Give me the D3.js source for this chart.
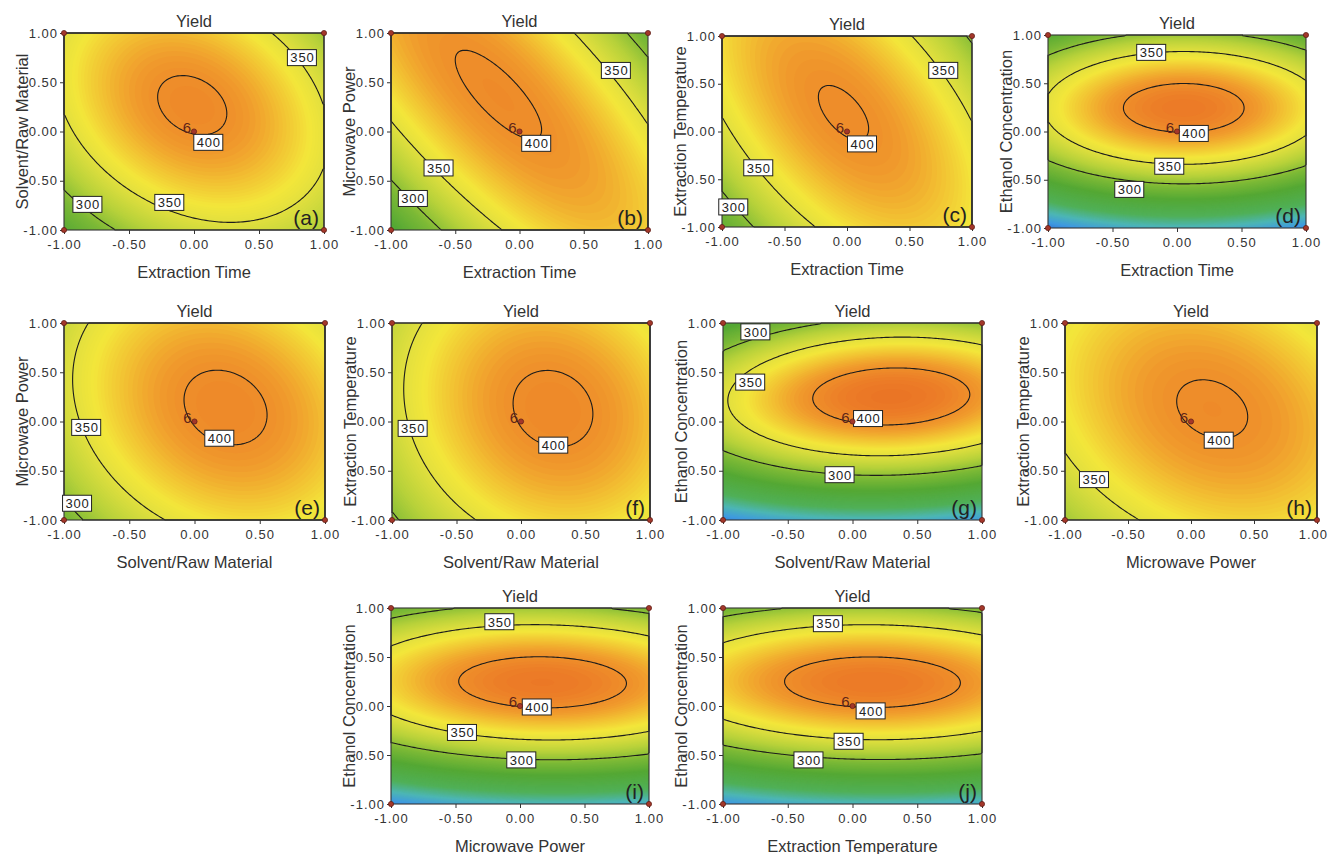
<!DOCTYPE html>
<html>
<head>
<meta charset="utf-8">
<script src="https://cdn.jsdelivr.net/npm/d3@7"></script>
<style>
  body { margin: 0; background: #fff; }
  svg text { font-family: "Liberation Sans", Arial, sans-serif; }
</style>
</head>
<body>
<div id="chart"></div>
<script>
// coded factors A..E, all held at 0 when not on a panel's axes
const factorNames = ["Extraction Time", "Solvent/Raw Material", "Microwave Power",
  "Extraction Temperature", "Ethanol Concentration"];

// quadratic model for Yield, coefficients
const intercept = 400.6;
const linearCoef = [5.5, 21.5, 11.6, 9, 88];
const quadCoef = [-52.5, -41, -29, -26, -180];

// one panel per factor pair, same order as the interaction terms
const pairFactors = [[0, 1], [0, 2], [0, 3], [0, 4], [1, 2], [1, 3], [1, 4], [2, 3], [2, 4], [3, 4]];
const interactionCoef = [-26, -61, -43, 0, -14, -9, 12, -14.6, -6, -4];
const panelLetters = ["a", "b", "c", "d", "e", "f", "g", "h", "i", "j"];

const contourLevels = [300, 350, 400];
const tickValues = [-1, -0.5, 0, 0.5, 1];
const designPoints = [[-1, -1], [-1, 1], [1, -1], [1, 1], [0, 0]];
const centerRuns = "6";

// where each contour label box sits: [level, x, y] in coded units
const labelSpots = [
  [[350, 0.83, 0.75], [350, -0.19, -0.72], [300, -0.82, -0.74], [400, 0.11, -0.11]],
  [[350, 0.75, 0.62], [350, -0.63, -0.37], [300, -0.83, -0.68], [400, 0.13, -0.12]],
  [[350, 0.77, 0.64], [350, -0.71, -0.38], [300, -0.91, -0.79], [400, 0.12, -0.13]],
  [[350, -0.2, 0.82], [350, -0.06, -0.36], [300, -0.37, -0.6], [400, 0.13, -0.02]],
  [[350, -0.83, -0.06], [300, -0.9, -0.83], [400, 0.19, -0.17]],
  [[350, -0.84, -0.07], [400, 0.25, -0.24]],
  [[300, -0.75, 0.91], [350, -0.79, 0.4], [300, -0.1, -0.54], [400, 0.12, 0.03]],
  [[350, -0.77, -0.59], [400, 0.22, -0.19]],
  [[350, -0.16, 0.86], [350, -0.45, -0.27], [300, 0.01, -0.55], [400, 0.13, -0.01]],
  [[350, -0.19, 0.84], [350, -0.03, -0.36], [300, -0.34, -0.55], [400, 0.14, -0.05]]
];

function yieldAt(x) {
  let y = intercept;
  for (let i = 0; i < x.length; i++) y += linearCoef[i] * x[i] + quadCoef[i] * x[i] * x[i];
  pairFactors.forEach(([i, j], k) => { y += interactionCoef[k] * x[i] * x[j]; });
  return y;
}

// plot rectangles [left, top, right, bottom]
const frames = [
  [64, 33, 324, 230], [391, 33, 648, 230], [722, 36, 972, 227], [1048, 35, 1306, 228],
  [64, 323, 325, 520], [392, 323, 650, 520], [723, 323, 982, 520], [1065, 323, 1317, 520],
  [391, 608, 649, 804], [723, 608, 982, 804]
];

const color = d3.scaleLinear()
  .domain([60, 100, 140, 185, 250, 290, 320, 350, 364, 380, 395, 410, 425])
  .range(["#2f6dd4", "#3f9ae0", "#4db6b4", "#50b058", "#54a834", "#7cb936", "#b4d03a",
    "#e2e03e", "#f3e63a", "#f2c232", "#f0992c", "#ec7c27", "#e66622"])
  .clamp(true);

const svg = d3.select("#chart").append("svg")
  .attr("width", 1330)
  .attr("height", 854);

const n = 120;
const fillSteps = d3.range(30, 440, 2);
const fmt = d => d.toFixed(2);

pairFactors.forEach(([fx, fy], p) => {
  const [x0, y0, x1, y1] = frames[p];
  const xScale = d3.scaleLinear().domain([-1, 1]).range([x0, x1]);
  const yScale = d3.scaleLinear().domain([-1, 1]).range([y1, y0]);
  const gx = d3.scaleLinear().domain([0, n]).range([x0, x1]);
  const gy = d3.scaleLinear().domain([0, n]).range([y0, y1]);
  const path = d3.geoPath(d3.geoTransform({
    point(x, y) { this.stream.point(gx(x), gy(y)); }
  }));

  const values = new Array(n * n);
  for (let j = 0; j < n; j++) {
    for (let i = 0; i < n; i++) {
      const pt = [0, 0, 0, 0, 0];
      pt[fx] = xScale.invert(gx(i + 0.5));
      pt[fy] = yScale.invert(gy(j + 0.5));
      values[j * n + i] = yieldAt(pt);
    }
  }

  const g = svg.append("g");

  g.append("g")
    .selectAll("path")
    .data(d3.contours().size([n, n]).thresholds(fillSteps)(values))
    .join("path")
    .attr("d", path)
    .attr("fill", d => color(d.value + 1));

  g.append("g")
    .selectAll("path")
    .data(d3.contours().size([n, n]).thresholds(contourLevels)(values))
    .join("path")
    .attr("d", path)
    .attr("fill", "none")
    .attr("stroke", "#1c1c1c")
    .attr("stroke-width", 1.1);

  // frame
  g.append("rect")
    .attr("x", x0).attr("y", y0)
    .attr("width", x1 - x0).attr("height", y1 - y0)
    .attr("fill", "none")
    .attr("stroke", "#333")
    .attr("stroke-width", 1.1);

  // axes
  const xAxis = g.append("g")
    .attr("transform", `translate(0,${y1})`)
    .call(d3.axisBottom(xScale).tickValues(tickValues).tickFormat(fmt)
      .tickSize(4).tickSizeOuter(0).tickPadding(6));
  const yAxis = g.append("g")
    .attr("transform", `translate(${x0},0)`)
    .call(d3.axisLeft(yScale).tickValues(tickValues).tickFormat(fmt)
      .tickSize(4).tickSizeOuter(0).tickPadding(2));
  [xAxis, yAxis].forEach(ax => {
    ax.select(".domain").remove();
    ax.selectAll("line").attr("stroke", "#333");
    ax.selectAll("text")
      .attr("fill", "#333")
      .attr("font-size", 13)
      .attr("letter-spacing", 1)
      .style("font-family", '"Liberation Sans", Arial, sans-serif');
  });
  // keep the right-most tick label inside the page
  xAxis.selectAll("text").each(function () {
    const box = this.getBoundingClientRect();
    if (box.right > 1328) d3.select(this).attr("dx", 1328 - box.right);
  });

  g.append("text")
    .attr("x", (x0 + x1) / 2)
    .attr("y", y1 + 48)
    .attr("text-anchor", "middle")
    .attr("font-size", 16.5)
    .attr("fill", "#333")
    .text(factorNames[fx]);

  g.append("text")
    .attr("transform", `translate(${x0 - 36},${(y0 + y1) / 2}) rotate(-90)`)
    .attr("text-anchor", "middle")
    .attr("font-size", 16.5)
    .attr("fill", "#333")
    .text(factorNames[fy]);

  g.append("text")
    .attr("x", (x0 + x1) / 2)
    .attr("y", y0 - 6)
    .attr("text-anchor", "middle")
    .attr("font-size", 16.5)
    .attr("fill", "#333")
    .text("Yield");

  g.append("text")
    .attr("x", x1 - 5)
    .attr("y", y1 - 5)
    .attr("text-anchor", "end")
    .attr("font-size", 21)
    .attr("fill", "#222")
    .text(`(${panelLetters[p]})`);

  // contour labels
  const lab = g.append("g")
    .selectAll("g")
    .data(labelSpots[p])
    .join("g")
    .attr("transform", d => `translate(${xScale(d[1])},${yScale(d[2])})`);
  lab.append("rect")
    .attr("x", -14.5).attr("y", -8)
    .attr("width", 29).attr("height", 16)
    .attr("fill", "#fff")
    .attr("stroke", "#222")
    .attr("stroke-width", 1);
  lab.append("text")
    .attr("x", 0.5)
    .attr("y", 4.8)
    .attr("text-anchor", "middle")
    .attr("font-size", 13)
    .attr("letter-spacing", 0.8)
    .attr("fill", "#222")
    .text(d => d[0]);

  // design points
  g.append("g")
    .selectAll("circle")
    .data(designPoints)
    .join("circle")
    .attr("cx", d => xScale(d[0]))
    .attr("cy", d => yScale(d[1]))
    .attr("r", 2.6)
    .attr("fill", "#a3372a")
    .attr("stroke", "#5a1a12")
    .attr("stroke-width", 0.7);

  g.append("text")
    .attr("x", xScale(0) - 3)
    .attr("y", yScale(0) + 1)
    .attr("text-anchor", "end")
    .attr("font-size", 15)
    .attr("fill", "#5e2418")
    .text(centerRuns);
});
</script>
</body>
</html>
